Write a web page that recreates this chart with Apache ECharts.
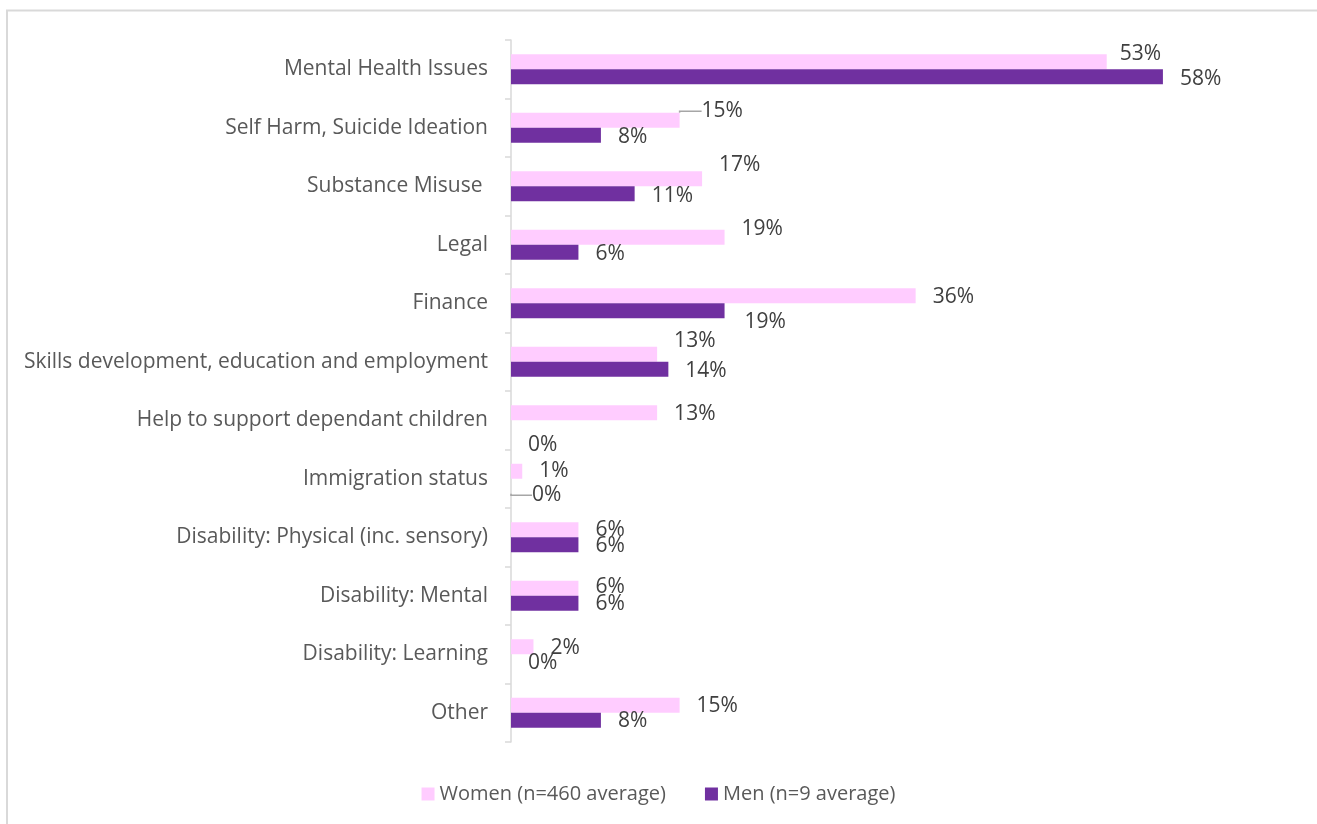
<!DOCTYPE html>
<html>
<head>
<meta charset="utf-8">
<script src="https://cdn.jsdelivr.net/npm/echarts@6/dist/echarts.min.js"></script>
<style>
  html, body { margin: 0; padding: 0; background: #ffffff; }
  #chart { width: 1317px; height: 824px; }
</style>
</head>
<body>
<div id="chart"></div>
<script>
// Support needs by category, percentage of people reporting each need
const categories = [
  'Mental Health Issues',
  'Self Harm, Suicide Ideation',
  'Substance Misuse ',
  'Legal',
  'Finance',
  'Skills development, education and employment',
  'Help to support dependant children',
  'Immigration status',
  'Disability: Physical (inc. sensory)',
  'Disability: Mental',
  'Disability: Learning',
  'Other'
];
const seriesNames = ['Women (n=460 average)', 'Men (n=9 average)'];
const women = [53, 15, 17, 19, 36, 13, 13, 1, 6, 6, 2, 15];
const men = [58, 8, 11, 6, 19, 14, 0, 0, 6, 6, 0, 8];

// Nudges for data labels that sit off their default spot, [dx, dy] in px
const womenLabelShift = [[-4,-8],[5,-9],[0,-14],[0,-8],[0,1],[0,-13],[0,1],[0,0],[0,0],[0,-1],[0,1],[0,1]];
const menLabelShift = [[0,2],[0,2],[0,2],[0,2],[3,11],[0,2],[0,17],[4,9],[0,1],[0,1],[0,1],[0,1]];
// Labels drawn with an elbow leader line back to their bar
const womenLeader = [1];
const menLeader = [7];

const FONT = '"Open Sans", "DejaVu Sans", sans-serif';

function toData(values, leaders, shifts) {
  return values.map((v, i) => leaders.includes(i)
    ? { value: v, labelLine: { show: true, length2: 17 + shifts[i][0] } }
    : v);
}

const chart = echarts.init(document.getElementById('chart'), null, { renderer: 'canvas' });

const barLabel = {
  show: true,
  position: 'right',
  distance: 17,
  formatter: p => p.value + '%',
  color: '#404040',
  fontSize: 21,
  fontFamily: FONT
};

const leaderLine = {
  show: false,
  minTurnAngle: 0,
  lineStyle: { color: '#a6a6a6', width: 1.5 }
};

chart.setOption({
  backgroundColor: '#ffffff',
  animation: false,
  graphic: [{
    type: 'rect',
    silent: true,
    shape: { x: 7, y: 10.5, width: 1400, height: 900 },
    style: { fill: 'none', stroke: '#d9d9d9', lineWidth: 2 }
  }],
  grid: { left: 511, top: 40, width: 674.4, height: 702, containLabel: false },
  legend: {
    data: seriesNames,
    top: 779,
    left: 'center',
    itemWidth: 13,
    itemHeight: 13,
    itemGap: 39,
    icon: 'rect',
    textStyle: { color: '#595959', fontSize: 20, fontFamily: FONT }
  },
  xAxis: {
    type: 'value',
    min: 0,
    max: 60,
    show: false,
    splitLine: { show: false }
  },
  yAxis: {
    type: 'category',
    data: categories,
    inverse: true,
    axisLine: { show: true, lineStyle: { color: '#d9d9d9', width: 1.5 } },
    axisTick: { show: true, length: 6, lineStyle: { color: '#d9d9d9', width: 1.5 } },
    axisLabel: { color: '#595959', fontSize: 21, fontFamily: FONT, margin: 23 }
  },
  series: [
    {
      name: seriesNames[0],
      type: 'bar',
      data: toData(women, womenLeader, womenLabelShift),
      barWidth: 15,
      barGap: '0%',
      itemStyle: { color: '#ffccff' },
      label: barLabel,
      labelLine: leaderLine,
      labelLayout: p => ({ dx: womenLabelShift[p.dataIndex][0], dy: womenLabelShift[p.dataIndex][1] })
    },
    {
      name: seriesNames[1],
      type: 'bar',
      data: toData(men, menLeader, menLabelShift),
      barWidth: 15,
      barGap: '0%',
      itemStyle: { color: '#7030a0' },
      label: barLabel,
      labelLine: leaderLine,
      labelLayout: p => ({ dx: menLabelShift[p.dataIndex][0], dy: menLabelShift[p.dataIndex][1] })
    }
  ]
});
</script>
</body>
</html>
